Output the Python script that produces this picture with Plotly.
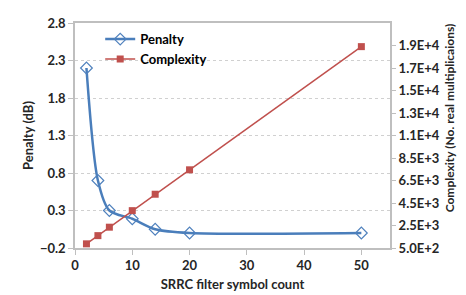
import plotly.graph_objects as go

symbols = [2, 4, 6, 10, 14, 20, 50]
penalty_db = [2.2, 0.7, 0.3, 0.19, 0.05, 0.0, 0.0]
complexity = [870, 1600, 2350, 3820, 5280, 7450, 18400]

left_ticks = [-0.2, 0.3, 0.8, 1.3, 1.8, 2.3, 2.8]
right_tickvals = [500, 2500, 4500, 6500, 8500, 10500, 12500, 14500, 16500, 18500]
right_ticktext = ["5.0E+2", "2.5E+3", "4.5E+3", "6.5E+3", "8.5E+3",
                  "1.1E+4", "1.3E+4", "1.5E+4", "1.7E+4", "1.9E+4"]
x_ticks = [0, 10, 20, 30, 40, 50]

FONT = "Lato"
tickfont = dict(family=FONT, size=13, color="#262626", weight="bold")
axis_line = "#bfbfbf"

fig = go.Figure()
fig.add_trace(go.Scatter(
    x=symbols, y=penalty_db, name="Penalty", mode="lines+markers",
    line=dict(color="#4a7ebb", width=2.5, shape="spline", smoothing=0.8),
    marker=dict(symbol="diamond-open", size=9, color="#4f81bd", line=dict(width=1.2)),
    yaxis="y"))
fig.add_trace(go.Scatter(
    x=symbols, y=complexity, name="Complexity", mode="lines+markers",
    line=dict(color="#c0504d", width=1.5),
    marker=dict(symbol="square", size=7, color="#c0504d"),
    yaxis="y2"))

fig.update_layout(
    width=466, height=295,
    margin=dict(l=67, r=84, t=7, b=55),
    paper_bgcolor="white", plot_bgcolor="white",
    font=dict(family=FONT, color="#262626"),
    showlegend=True,
    legend=dict(x=0.08, y=0.995, xanchor="left", yanchor="top",
                bgcolor="rgba(0,0,0,0)", itemwidth=30,
                font=dict(family=FONT, size=13, color="#000000", weight="bold"),
                tracegroupgap=2),
    xaxis=dict(range=[0, 55], tickvals=x_ticks, showgrid=False, zeroline=False,
               showline=True, linecolor=axis_line, linewidth=1.5, mirror=True,
               ticks="outside", ticklen=5, tickcolor=axis_line,
               tickfont=tickfont,
               title=dict(text="SRRC filter symbol count", standoff=8,
                          font=dict(family=FONT, size=13, color="#262626", weight="bold"))),
    yaxis=dict(range=[-0.2, 2.8], tickvals=left_ticks, tickformat=".1f",
               showgrid=True, gridcolor="#d0d0d0", griddash="dot", gridwidth=1,
               zeroline=False, showline=True, linecolor=axis_line, linewidth=1.5,
               mirror=True, ticks="outside", ticklen=5, tickcolor=axis_line,
               tickfont=tickfont,
               title=dict(text="Penalty (dB)", standoff=3,
                          font=dict(family=FONT, size=13, color="#262626", weight="bold"))),
    yaxis2=dict(range=[500, 20500], tickvals=right_tickvals, ticktext=right_ticktext,
                overlaying="y", side="right", showgrid=False, zeroline=False,
                showline=False, ticks="outside", ticklen=5, tickcolor=axis_line,
                tickfont=tickfont),
)

fig.add_annotation(
    text="Complexity (No. real multiplicaions)", xref="paper", yref="paper",
    x=1.19, y=0.58, textangle=-90, showarrow=False, xanchor="center", yanchor="middle",
    font=dict(family=FONT, size=12, color="#262626", weight="bold"))

fig.write_html("out.html")
